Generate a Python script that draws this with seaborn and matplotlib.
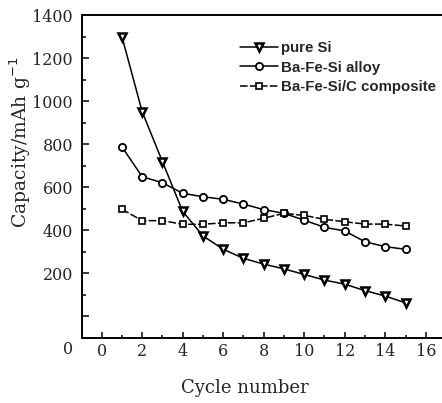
import matplotlib
matplotlib.use("Agg")
import matplotlib.pyplot as plt
import seaborn as sns
import numpy as np
from matplotlib.ticker import MultipleLocator, FixedLocator

cycles = [1, 2, 3, 4, 5, 6, 7, 8, 9, 10, 11, 12, 13, 14, 15]
pure_si = [1300, 951, 719, 488, 374, 312, 270, 243, 221, 195, 169, 150, 120, 95, 63]
alloy = [788, 649, 621, 572, 556, 544, 522, 496, 479, 447, 414, 397, 347, 324, 312]
composite = [498, 445, 445, 428, 428, 435, 435, 456, 479, 469, 451, 440, 429, 429, 420]
series_names = ["pure Si", "Ba-Fe-Si alloy", "Ba-Fe-Si/C composite"]
ytick_values = [0, 200, 400, 600, 800, 1000, 1200, 1400]
ytick_labels = ["", "200", "400", "600", "800", "1000", "1200", "1400"]
xtick_values = [0, 2, 4, 6, 8, 10, 12, 14, 16]

sns.set_style("ticks")
plt.rcParams["font.family"] = ["DejaVu Serif"]

W, H = 442, 403
fig = plt.figure(figsize=(W / 100, H / 100), dpi=100)
ax = fig.add_axes([82 / W, (H - 338) / H, (W - 82) / W, 323 / H])

lw = 1.1
sns.lineplot(x=cycles, y=pure_si, ax=ax, color="black", lw=lw, marker="v",
             markersize=5.6, markerfacecolor="white", markeredgecolor="black",
             markeredgewidth=1.8, label=series_names[0])
sns.lineplot(x=cycles, y=alloy, ax=ax, color="black", lw=lw, marker="o",
             markersize=5.2, markerfacecolor="white", markeredgecolor="black",
             markeredgewidth=1.3, label=series_names[1])
sns.lineplot(x=cycles, y=composite, ax=ax, color="black", lw=lw, marker="s",
             markersize=4.5, markerfacecolor="white", markeredgecolor="black",
             markeredgewidth=1.2, label=series_names[2], dashes=False,
             linestyle=(0, (5, 1.5)))

ax.set_xlim(-0.97, 16.8)
ax.set_ylim(-100, 1400)
ax.xaxis.set_major_locator(FixedLocator(xtick_values))
ax.xaxis.set_minor_locator(MultipleLocator(1))
ax.yaxis.set_major_locator(FixedLocator(ytick_values))
ax.set_yticklabels(ytick_labels)
ax.yaxis.set_minor_locator(MultipleLocator(100))

for s in ["left", "bottom", "top"]:
    ax.spines[s].set_linewidth(1.4)
    ax.spines[s].set_color("black")
ax.spines["right"].set_visible(False)

ax.tick_params(axis="both", which="both", direction="in", top=False, right=False,
               color="black", width=1.1)
ax.tick_params(axis="y", which="major", length=5, pad=6.5, labelsize=11.5)
ax.tick_params(axis="y", which="minor", length=3)
ax.tick_params(axis="x", which="major", length=4, pad=3.5, labelsize=11.5)
ax.tick_params(axis="x", which="minor", length=2)

ax.set_xlabel("Cycle number", fontsize=13)
ax.set_ylabel("Capacity/mAh g$^{-1}$", fontsize=13.5)
ax.xaxis.set_label_coords((245 - 82) / (W - 82), -(379 - 338) / 323)
ax.yaxis.set_label_coords(-(82 - 33) / (W - 82), (338 - 142) / 323)

fig.text(73 / W, (H - 349) / H, "0", ha="right", va="center", fontsize=11.5)

leg = ax.legend(loc="upper left", bbox_to_anchor=(240 / W, (H - 41) / H),
                bbox_transform=fig.transFigure, frameon=False, borderpad=0,
                borderaxespad=0, handlelength=2.5, handletextpad=0.25,
                labelspacing=0.38,
                prop={"family": "Liberation Sans", "weight": "bold", "size": 10.8})

fig.savefig("out.png", dpi=100)
